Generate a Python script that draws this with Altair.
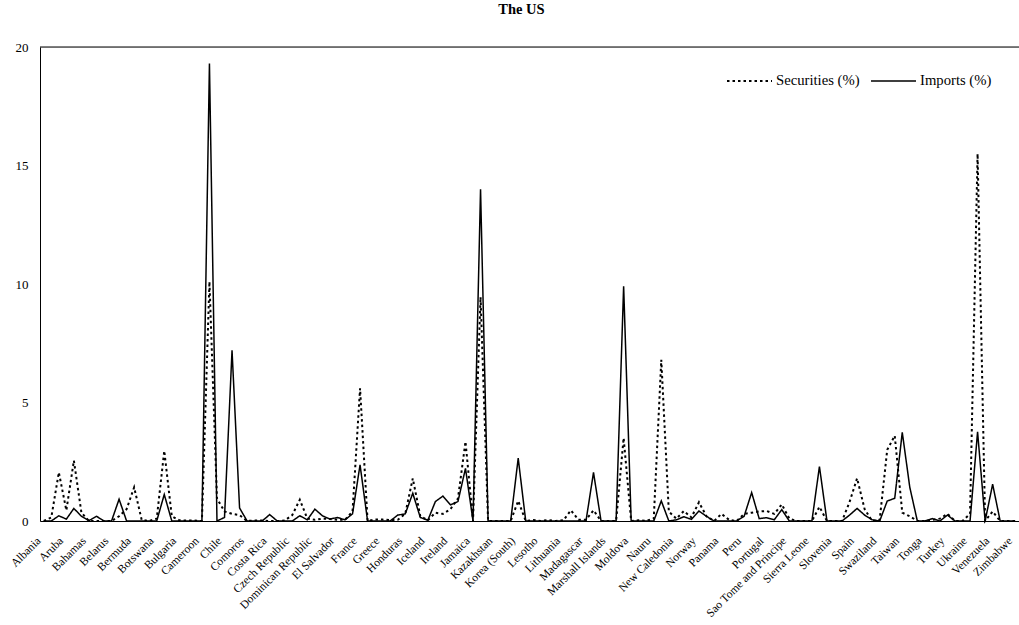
import altair as alt
import pandas as pd

countries = [
    "Albania", "Algeria", "Argentina", "Aruba", "Australia", "Austria", "Bahamas", "Bahrain", "Barbados",
    "Belarus", "Belgium", "Belize", "Bermuda", "Bolivia", "Bosnia and Herzegovina", "Botswana", "Brazil",
    "Brunei", "Bulgaria", "Burkina Faso", "Cambodia", "Cameroon", "Canada", "Cayman Islands", "Chile",
    "China", "Colombia", "Comoros", "Congo", "Cook Islands", "Costa Rica", "Croatia", "Cyprus",
    "Czech Republic", "Denmark", "Djibouti", "Dominican Republic", "Ecuador", "Egypt", "El Salvador",
    "Estonia", "Finland", "France", "Germany", "Ghana", "Greece", "Guatemala", "Haiti", "Honduras",
    "Hong Kong", "Hungary", "Iceland", "India", "Indonesia", "Ireland", "Israel", "Italy", "Jamaica",
    "Japan", "Jordan", "Kazakhstan", "Kenya", "Kiribati", "Korea (South)", "Kuwait", "Latvia", "Lesotho",
    "Liberia", "Libya", "Lithuania", "Luxembourg", "Macedonia", "Madagascar", "Malaysia", "Malta",
    "Marshall Islands", "Mauritius", "Mexico", "Moldova", "Morocco", "Namibia", "Nauru", "Netherlands",
    "Netherlands Antilles", "New Caledonia", "New Zealand", "Nigeria", "Norway", "Oman", "Pakistan",
    "Panama", "Papua New Guinea", "Paraguay", "Peru", "Philippines", "Poland", "Portugal", "Qatar",
    "Russia", "Sao Tome and Principe", "Saudi Arabia", "Senegal", "Sierra Leone", "Singapore",
    "Slovakia", "Slovenia", "Solomon Islands", "South Africa", "Spain", "Sri Lanka", "Sudan",
    "Swaziland", "Sweden", "Switzerland", "Taiwan", "Thailand", "Togo", "Tonga", "Trinidad and Tobago",
    "Tunisia", "Turkey", "Turkmenistan", "Uganda", "Ukraine", "United Kingdom", "Uruguay", "Venezuela",
    "Vietnam", "Zambia", "Zimbabwe",
]

securities = [
    0, 0.15, 2.05, 0.45, 2.55, 0.35, 0, 0, 0, 0,
    0.2, 0.5, 1.42, 0.05, 0, 0.1, 2.96, 0.2, 0.03, 0.02,
    0.02, 0, 10.1, 0.95, 0.4, 0.3, 0.25, 0, 0.02, 0.02,
    0, 0, 0.02, 0.25, 0.9, 0.1, 0.05, 0.1, 0.08, 0.05,
    0.05, 0.4, 5.6, 0, 0.06, 0.06, 0.04, 0.05, 0.3, 1.8,
    0.2, 0.03, 0.35, 0.3, 0.5, 0.95, 3.35, 0, 9.45, 0,
    0, 0, 0, 0.85, 0, 0.04, 0, 0.04, 0, 0.03,
    0.45, 0.05, 0.05, 0.45, 0, 0, 0, 3.5, 0, 0.03,
    0, 0.1, 6.8, 0.4, 0.1, 0.42, 0.15, 0.79, 0.2, 0,
    0.3, 0.05, 0, 0.3, 0.35, 0.4, 0.42, 0.3, 0.7, 0.1,
    0, 0, 0, 0.6, 0, 0, 0, 0.8, 1.8, 0.5,
    0, 0.05, 3.0, 3.6, 0.35, 0.2, 0, 0, 0.05, 0.1,
    0.3, 0, 0, 0.3, 15.5, 0, 0.4, 0, 0, 0,
]

imports = [
    0, 0, 0.22, 0.08, 0.53, 0.2, 0.02, 0.2, 0, 0,
    0.92, 0, 0, 0, 0, 0, 1.12, 0, 0, 0,
    0, 0, 19.3, 0, 0.15, 7.2, 0.55, 0, 0, 0,
    0.27, 0, 0, 0, 0.22, 0.05, 0.5, 0.22, 0.08, 0.15,
    0.05, 0.3, 2.37, 0, 0, 0, 0, 0.25, 0.3, 1.17,
    0.15, 0.03, 0.82, 1.05, 0.68, 0.82, 2.22, 0, 14.0, 0,
    0, 0, 0, 2.65, 0, 0, 0, 0, 0, 0,
    0, 0, 0, 2.05, 0, 0, 0, 9.9, 0, 0,
    0, 0, 0.85, 0, 0.05, 0.18, 0.07, 0.42, 0.2, 0,
    0, 0, 0, 0.2, 1.2, 0.1, 0.14, 0.05, 0.48, 0,
    0, 0, 0, 2.3, 0, 0, 0, 0.25, 0.53, 0.25,
    0.05, 0, 0.84, 0.96, 3.74, 1.42, 0, 0, 0.1, 0,
    0.25, 0, 0, 0, 3.76, 0, 1.55, 0, 0, 0,
]

series_names = ["Securities (%)", "Imports (%)"]
labeled = countries[::3]
y_ticks = [0, 5, 10, 15, 20]

rows = []
for c, s, m in zip(countries, securities, imports):
    rows.append({"country": c, "series": series_names[0], "value": s})
    rows.append({"country": c, "series": series_names[1], "value": m})
df = pd.DataFrame(rows)

FONT = "Liberation Serif"
W, H = 979, 474

lines = alt.Chart(df).mark_line(color="black").encode(
    x=alt.X(
        "country:N",
        sort=countries,
        scale=alt.Scale(type="point", padding=0.5),
        axis=alt.Axis(
            values=labeled, title=None, labelAngle=-45, ticks=False, grid=False,
            domainColor="black", domainWidth=1, labelFont=FONT, labelFontSize=11.6,
            labelColor="black", labelPadding=18, labelOffset=-5, labelBaseline="middle",
            labelAlign="right", labelOverlap=False,
        ),
    ),
    y=alt.Y(
        "value:Q",
        scale=alt.Scale(domain=[0, 20], nice=False),
        axis=alt.Axis(
            values=y_ticks, title=None, ticks=False, grid=False, domainColor="black",
            domainWidth=1, labelFont=FONT, labelFontSize=13, labelColor="black", labelPadding=12,
        ),
    ),
    strokeDash=alt.StrokeDash(
        "series:N",
        sort=series_names,
        scale=alt.Scale(domain=series_names, range=[[2.5, 3], [1, 0]]),
        legend=alt.Legend(
            title=None, orient="none", legendX=686, legendY=10, direction="horizontal",
            symbolType="stroke", symbolSize=2025, symbolStrokeColor="black",
            symbolStrokeWidth=1.8, labelFont=FONT, labelFontSize=14.7, labelColor="black",
            columnPadding=8, labelOffset=3, padding=0,
        ),
    ),
    strokeWidth=alt.StrokeWidth(
        "series:N", scale=alt.Scale(domain=series_names, range=[2, 1.5]), legend=None
    ),
)

top_line = alt.Chart(pd.DataFrame({"a": [0]})).mark_rule(color="black", strokeWidth=1).encode(
    x=alt.value(0), x2=alt.value(W), y=alt.value(0)
)

chart = alt.layer(lines, top_line).properties(
    width=W,
    height=H,
    title=alt.Title("The US", font=FONT, fontSize=14.5, fontWeight="bold", anchor="middle",
                    offset=24, dx=-8, color="black"),
    autosize=alt.AutoSizeParams(type="none"),
    padding={"left": 40, "top": 47, "right": 0, "bottom": 102},
).configure_view(stroke=None).configure(background="white")

chart.save("out.html", embed_options={"renderer": "svg", "actions": False})
